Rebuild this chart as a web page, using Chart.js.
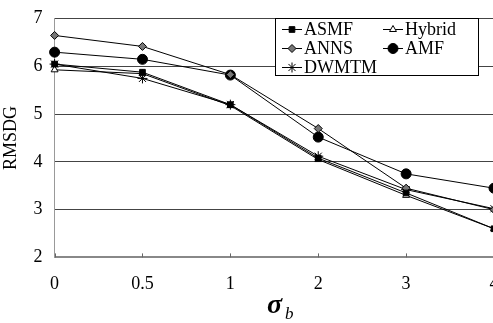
<!DOCTYPE html>
<html>
<head>
<meta charset="utf-8">
<script src="https://cdn.jsdelivr.net/npm/chart.js@4"></script>
<style>
  html, body { margin: 0; padding: 0; background: #fff; overflow: hidden; }
  #wrap { width: 520px; height: 323px; }
</style>
</head>
<body>
<div id="wrap"><canvas id="chart"></canvas></div>
<script>
// values
const sigmaB = ["0", "0.5", "1", "2", "3", "4"];
const asmf   = [6.05, 5.88, 5.20, 4.08, 3.35, 2.60];
const hybrid = [5.93, 5.85, 5.18, 4.05, 3.30, 2.60];
const anns   = [6.65, 6.42, 5.83, 4.70, 3.45, 3.00];
const amf    = [6.30, 6.15, 5.82, 4.52, 3.75, 3.45];
const dwmtm  = [6.05, 5.75, 5.20, 4.12, 3.42, 3.02];
const yTicks = [2, 3, 4, 5, 6, 7];

const serif = "'Liberation Serif', 'DejaVu Serif', serif";

function series(label, data, style, radius, fill) {
  return {
    label, data,
    borderColor: "#000",
    borderWidth: 1,
    backgroundColor: fill,
    pointStyle: style,
    pointRadius: radius,
    pointHoverRadius: radius,
    pointBorderColor: "#000",
    pointBackgroundColor: fill,
    pointBorderWidth: 1,
    tension: 0
  };
}

const datasets = [
  series("ASMF", asmf, "rect", 4, "#000"),
  series("Hybrid", hybrid, "triangle", 4, "#fff"),
  series("ANNS", anns, "rectRot", 4, "#777"),
  series("AMF", amf, "circle", 5, "#000"),
  series("DWMTM", dwmtm, "star", 5, "#000")
];

// legend box with line + marker samples, and the sigma_b axis title
const extras = {
  id: "extras",
  afterDraw(chart) {
    const ctx = chart.ctx;
    const area = chart.chartArea;
    const xs = chart.scales.x;

    // small inside tick marks on the x axis
    ctx.save();
    ctx.strokeStyle = "#666";
    ctx.lineWidth = 1;
    sigmaB.forEach((_, i) => {
      const x = Math.round(xs.getPixelForValue(i)) + 0.5;
      ctx.beginPath();
      ctx.moveTo(x, area.bottom);
      ctx.lineTo(x, area.bottom - 4);
      ctx.stroke();
    });
    ctx.restore();

    // legend
    ctx.save();
    ctx.fillStyle = "#fff";
    ctx.fillRect(275, 18, 203, 57);
    ctx.strokeStyle = "#000";
    ctx.lineWidth = 1;
    ctx.strokeRect(275.5, 18.5, 203, 57);
    const order = [[0, 0, 0], [1, 1, 0], [2, 0, 1], [3, 1, 1], [4, 0, 2]];
    order.forEach(([di, col, row]) => {
      const ds = chart.data.datasets[di];
      const x0 = col ? 383 : 282;
      const y = 29 + row * 19;
      ctx.strokeStyle = "#000";
      ctx.lineWidth = 1;
      ctx.beginPath();
      ctx.moveTo(x0, y + 0.5);
      ctx.lineTo(x0 + 20, y + 0.5);
      ctx.stroke();
      ctx.fillStyle = ds.pointBackgroundColor;
      Chart.helpers.drawPoint(ctx, {
        pointStyle: ds.pointStyle,
        radius: ds.pointRadius,
        rotation: 0,
        borderWidth: 1
      }, x0 + 10, y + 0.5);
      ctx.fillStyle = "#000";
      ctx.font = "18px " + serif;
      ctx.textBaseline = "middle";
      ctx.textAlign = "left";
      ctx.fillText(ds.label, x0 + 22, y + 1);
    });

    // x axis title: sigma with subscript b
    ctx.fillStyle = "#000";
    ctx.textBaseline = "alphabetic";
    ctx.font = "italic bold 28px " + serif;
    ctx.fillText("σ", 267, 313);
    ctx.font = "italic 17px " + serif;
    ctx.fillText("b", 285, 319);
    ctx.restore();
  }
};

new Chart(document.getElementById("chart"), {
  type: "line",
  data: { labels: sigmaB, datasets },
  plugins: [extras],
  options: {
    responsive: true,
    maintainAspectRatio: false,
    animation: false,
    layout: { padding: { top: 0, right: 26, bottom: 12, left: 0 } },
    plugins: { legend: { display: false }, tooltip: { enabled: false } },
    scales: {
      x: {
        offset: false,
        grid: { display: false, drawTicks: false },
        border: { color: "#888", width: 2 },
        ticks: { color: "#000", font: { family: serif, size: 18 }, padding: 16, maxRotation: 0 }
      },
      y: {
        min: 2, max: 7,
        afterBuildTicks(scale) { scale.ticks = yTicks.map(v => ({ value: v })); },
        grid: { color: "#444", lineWidth: 1, drawTicks: false },
        border: { color: "#999", width: 1 },
        ticks: { color: "#000", font: { family: serif, size: 18, lineHeight: 0.75 }, padding: 12 },
        title: { display: true, text: "RMSDG", color: "#000", font: { family: serif, size: 18 }, padding: 0 }
      }
    }
  }
});
</script>
</body>
</html>
